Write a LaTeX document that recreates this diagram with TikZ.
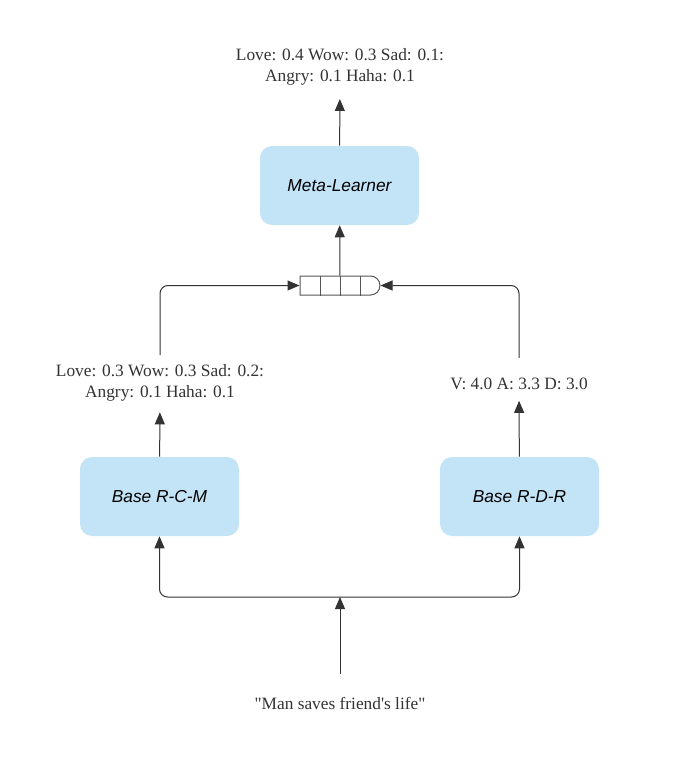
\documentclass[tikz,border=0pt]{standalone}
\usepackage{fontspec}
\setmainfont{Liberation Serif}[Ligatures=TeXOff]
\setsansfont{Liberation Sans}
\usepackage{tikz}
\usetikzlibrary{arrows.meta}
\usetikzlibrary{shapes.misc}
\usetikzlibrary{positioning}
\definecolor{boxblue}{HTML}{C3E4F6}
\definecolor{inkgray}{HTML}{333333}
\definecolor{cellgray}{HTML}{555555}
\tikzset{
    model/.style={fill=boxblue, rounded corners=9pt, minimum width=119.25pt, minimum height=59.25pt,
        font=\sffamily\itshape\fontsize{13}{15}\selectfont, text=black},
    score/.style={align=center, text=inkgray, inner sep=0pt, font=\fontsize{13}{15.75}\selectfont},
    flow/.style={draw=inkgray, line width=0.75pt, rounded corners=6pt,
        -{Triangle[length=9pt,width=7.5pt]}},
    queue/.style={draw=cellgray, line width=0.75pt, rounded rectangle, rounded rectangle left arc=none,
        minimum width=60pt, minimum height=14.25pt, inner sep=0pt},
}

\begin{document}
\begin{tikzpicture}[x=0.75pt, y=-0.75pt]
	\useasboundingbox (0,0) rectangle (680,774);
	% outputs and models
	\node[score] (top) at (340,67) {Love: 0.4 Wow: 0.3 Sad: 0.1:\\Angry: 0.1 Haha: 0.1};
	\node[model] (meta) at (339.5,185.5) {Meta-Learner};
	\node[queue] (queue) at (340,285.5) {};
	\node[score] (lout) at (160,383) {Love: 0.3 Wow: 0.3 Sad: 0.2:\\Angry: 0.1 Haha: 0.1};
	\node[score] (rout) at (519,384) {V: 4.0 A: 3.3 D: 3.0};
	\node[model] (rcm) at (159.5,496.5) {Base R-C-M};
	\node[model] (rdr) at (519.5,496.5) {Base R-D-R};
	\node[score] (input) at (340,703) {"Man saves friend's life"};
	\coordinate (split) at (340,597);
	%
	\foreach \x in {320,340,360}
		\draw[cellgray, line width=0.75pt] (\x,0 |- queue.north) -- (\x,0 |- queue.south);
	%
	\draw[flow, shorten >=10pt] (meta) -- (top);
	\draw[flow] (queue) -- (meta);
	\draw[flow, shorten <=7pt] (lout.north) |- (queue.west);
	\draw[flow, shorten <=15pt] (rout.north) |- (queue.east);
	\draw[flow, shorten >=8pt] (rcm) -- (lout);
	\draw[flow, shorten >=8pt] (rdr) -- (rout);
	\draw[flow, shorten <=17pt] (input) -- (split);
	\draw[flow] (split) -| (rcm.south);
	\draw[flow] (split) -| (rdr.south);
\end{tikzpicture}
\end{document}
